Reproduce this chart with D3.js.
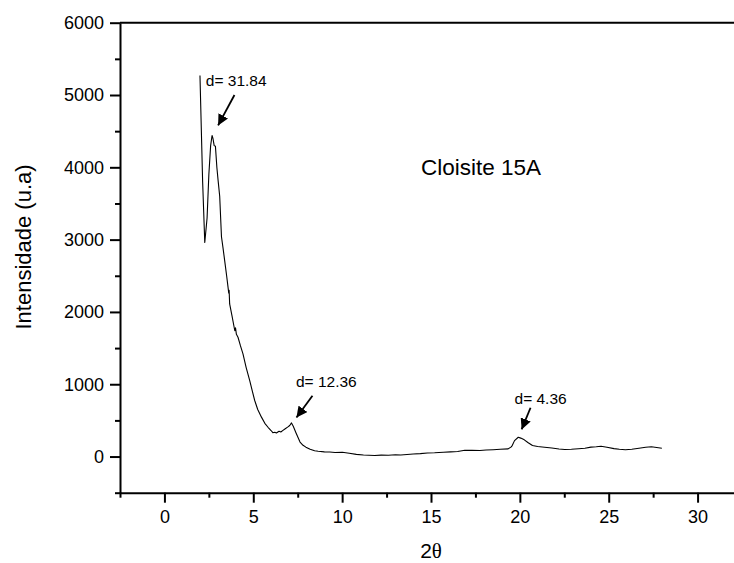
<!DOCTYPE html>
<html>
<head>
<meta charset="utf-8">
<script src="https://cdn.jsdelivr.net/npm/d3@7"></script>
<style>
  body { margin: 0; background: #fff; }
  svg { display: block; font-family: "Liberation Sans", Arial, sans-serif; }
</style>
</head>
<body>
<svg id="chart"></svg>
<script>
let twoTheta = [2.00, 2.15, 2.27, 2.40, 2.50, 2.60, 2.68, 2.73, 2.80, 2.87, 2.95, 3.02, 3.11, 3.21, 3.30, 3.39, 3.50, 3.58, 3.62, 3.64, 3.67, 3.80, 3.96, 4.00, 4.05, 4.14, 4.28, 4.42, 4.60, 4.80, 4.95, 5.08, 5.25, 5.46, 5.65, 5.83, 6.00, 6.10, 6.21, 6.30, 6.45, 6.55, 6.67, 6.80, 6.95, 7.05, 7.15, 7.25, 7.40, 7.63, 7.80, 7.96, 8.20, 8.45, 8.65, 9.00, 9.30, 9.60, 10.01, 10.40, 10.80, 11.20, 11.50, 11.83, 12.20, 12.60, 13.00, 13.30, 13.65, 14.00, 14.40, 14.80, 15.20, 15.70, 16.10, 16.50, 16.90, 17.30, 17.75, 18.10, 18.50, 18.90, 19.34, 19.50, 19.57, 19.70, 19.91, 20.05, 20.25, 20.45, 20.71, 21.00, 21.39, 21.80, 22.20, 22.53, 22.90, 23.30, 23.66, 24.00, 24.30, 24.57, 24.90, 25.30, 25.60, 25.94, 26.30, 26.70, 27.08, 27.40, 27.70, 27.99];
let intensidade = [5270, 3800, 2960, 3300, 3900, 4300, 4440, 4400, 4300, 4290, 4000, 3820, 3600, 3040, 2880, 2710, 2500, 2340, 2260, 2300, 2110, 1950, 1740, 1780, 1690, 1650, 1530, 1420, 1230, 1050, 900, 775, 650, 545, 460, 405, 360, 330, 336, 325, 350, 340, 362, 385, 410, 430, 465, 420, 330, 200, 155, 130, 100, 80, 73, 65, 62, 55, 60, 45, 30, 22, 18, 14, 20, 18, 25, 22, 28, 35, 40, 48, 52, 60, 65, 70, 88, 85, 83, 90, 95, 100, 106, 130, 152, 220, 267, 255, 231, 195, 152, 140, 129, 118, 105, 97, 100, 108, 115, 130, 135, 142, 128, 110, 100, 93, 100, 115, 129, 135, 125, 115];

let xTicks = [0, 5, 10, 15, 20, 25, 30];
let xMinor = [-2.5, 2.5, 7.5, 12.5, 17.5, 22.5, 27.5, 32.5];
let yTicks = [0, 1000, 2000, 3000, 4000, 5000, 6000];
let yMinor = [-500, 500, 1500, 2500, 3500, 4500, 5500];

// anotações: texto, posição do texto (dados) e ponta da seta
let rotulos = ["d= 31.84", "d= 12.36", "d= 4.36"];
let rotuloX = [2.33, 7.4, 19.7];
let rotuloY = [5120, 960, 720];
let setaDe = [[3.94, 5000], [8.33, 840], [20.6, 675]];
let setaPara = [[3.02, 4580], [7.43, 540], [20.1, 375]];

let width = 734, height = 563;
let svg = d3.select("#chart").attr("width", width).attr("height", height);

let x = d3.scaleLinear().domain([-2.5, 32.5]).range([120, 742]);
let y = d3.scaleLinear().domain([-500, 6000]).range([492.7, 22.7]);

// eixo x
let xAxis = svg.append("g").attr("transform", `translate(0,${y(-500)})`);
xAxis.call(d3.axisBottom(x).tickValues(xTicks).tickSize(10).tickSizeOuter(0).tickPadding(8).tickFormat(d3.format("d")));
xAxis.append("g").call(d3.axisBottom(x).tickValues(xMinor).tickSize(5).tickSizeOuter(0).tickFormat(""))
  .select(".domain").remove();

// eixo y
let yAxis = svg.append("g").attr("transform", `translate(${x(-2.5)},0)`);
yAxis.call(d3.axisLeft(y).tickValues(yTicks).tickSize(10).tickSizeOuter(0).tickPadding(6).tickFormat(d3.format("d")));
yAxis.append("g").call(d3.axisLeft(y).tickValues(yMinor).tickSize(5).tickSizeOuter(0).tickFormat(""))
  .select(".domain").remove();

svg.selectAll(".domain").attr("stroke", "#000").attr("stroke-width", 2);
svg.selectAll(".tick line").attr("stroke", "#000").attr("stroke-width", 2);
svg.selectAll(".tick text").attr("font-size", 18).attr("fill", "#000")
  .attr("font-family", "Liberation Sans, Arial, sans-serif");

// linha superior
svg.append("line")
  .attr("x1", x(-2.5)).attr("x2", x(32.5))
  .attr("y1", y(6000)).attr("y2", y(6000))
  .attr("stroke", "#000").attr("stroke-width", 2);

// curva
let pontos = twoTheta.map((t, i) => [t, intensidade[i]]);
let linha = d3.line().x(d => x(d[0])).y(d => y(d[1]));
svg.append("path")
  .attr("d", linha(pontos))
  .attr("fill", "none")
  .attr("stroke", "#000")
  .attr("stroke-width", 1.1)
  .attr("stroke-linejoin", "round");

// setas
svg.append("defs").append("marker")
  .attr("id", "ponta")
  .attr("viewBox", "0 0 10 10")
  .attr("refX", 10).attr("refY", 5)
  .attr("markerWidth", 6).attr("markerHeight", 6)
  .attr("markerUnits", "strokeWidth")
  .attr("orient", "auto")
  .append("path").attr("d", "M0,0 L10,5 L0,10 Z").attr("fill", "#000");

setaDe.forEach((p, i) => {
  svg.append("line")
    .attr("x1", x(p[0])).attr("y1", y(p[1]))
    .attr("x2", x(setaPara[i][0])).attr("y2", y(setaPara[i][1]))
    .attr("stroke", "#000").attr("stroke-width", 1.8)
    .attr("marker-end", "url(#ponta)");
});

rotulos.forEach((r, i) => {
  svg.append("text")
    .attr("x", x(rotuloX[i])).attr("y", y(rotuloY[i]))
    .attr("font-size", 15.5)
    .text(r);
});

// texto da amostra
svg.append("text")
  .attr("x", 421).attr("y", 175)
  .attr("font-size", 22.5)
  .text("Cloisite 15A");

// títulos dos eixos
let xTitulo = svg.append("text")
  .attr("x", x(15)).attr("y", 558)
  .attr("text-anchor", "middle")
  .attr("font-size", 21);
xTitulo.append("tspan").text("2");
xTitulo.append("tspan").attr("font-family", "Liberation Serif, Times New Roman, serif").text("θ");

svg.append("text")
  .attr("transform", "translate(31,247) rotate(-90)")
  .attr("text-anchor", "middle")
  .attr("font-size", 22)
  .text("Intensidade (u.a)");
</script>
</body>
</html>
